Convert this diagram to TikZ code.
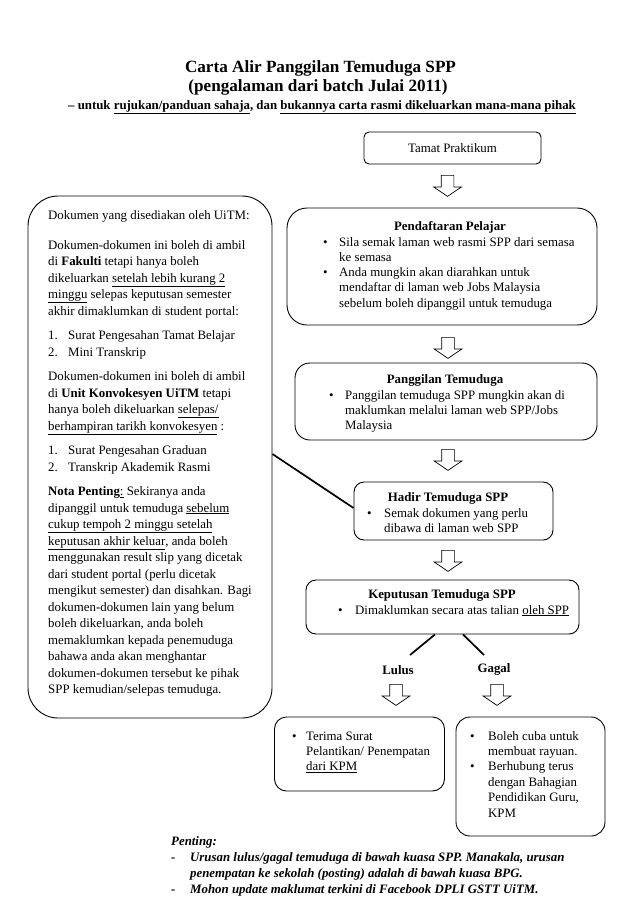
\documentclass[tikz,border=0pt]{standalone}
\usepackage{fontspec}
\setmainfont{Liberation Serif}
\usetikzlibrary{shapes.arrows,calc}
\newcommand{\fs}{\fontsize{12.86}{15.3}\selectfont}
\newcommand{\fsl}{\fontsize{12.86}{16.5}\selectfont}
\newcommand{\blk}[2]{\parbox[t]{#1}{\raggedright #2}}
\newcommand{\bul}[1][16pt]{\makebox[#1][l]{\textbullet}}
\newcommand{\nlab}[1]{\makebox[20pt][l]{#1}}
\begin{document}
\begin{tikzpicture}[x=1pt,y=-1pt,
  box/.style={draw, line width=0.9pt, inner sep=0pt},
  txt/.style={inner sep=0pt, anchor=base west},
  ttl/.style={inner sep=0pt, anchor=base, font=\fs\bfseries},
  conn/.style={line width=1.7pt},
  harrow/.style={single arrow, draw, line width=0.7pt, shape border rotate=270,
    minimum height=21pt, minimum width=1pt, inner sep=6pt,
    single arrow head extend=7.5pt, single arrow tip angle=112,
    single arrow head indent=0pt, anchor=tail}
]
\fill[white] (0,0) rectangle (638,903);
\useasboundingbox (0,0) rectangle (638,903);

% titles
\node[inner sep=0pt, anchor=base, font=\fontsize{17.15}{20}\selectfont\bfseries] (t1) at (320.5,72) {Carta Alir Panggilan Temuduga SPP};
\node[inner sep=0pt, anchor=base, font=\fontsize{17.15}{20}\selectfont\bfseries] (t2) at (318,91) {(pengalaman dari batch Julai 2011)};
\node[inner sep=0pt, anchor=base, font=\fs\bfseries] (t3) at (322,109) {– untuk \underline{rujukan/panduan sahaja}, dan \underline{bukannya carta rasmi dikeluarkan mana-mana pihak}};

% boxes
\node[box, rounded corners=5pt, minimum width=177pt, minimum height=32pt] (tamat) at (452.5,148) {};
\node[inner sep=0pt, font=\fs] (tamatt) at (tamat) {Tamat Praktikum};

\node[box, rounded corners=20pt, minimum width=310pt, minimum height=117pt] (pend) at (442,266.5) {};
\node[ttl] (pendt) at (450,230) {Pendaftaran Pelajar};
\node[txt] (pendb) at (323,246) {\blk{270pt}{\fs\bul Sila semak laman web rasmi SPP dari semasa\\
\hspace*{16pt}ke semasa\\
\bul Anda mungkin akan diarahkan untuk\\
\hspace*{16pt}mendaftar di laman web Jobs Malaysia\\
\hspace*{16pt}sebelum boleh dipanggil untuk temuduga}};

\node[box, rounded corners=15pt, minimum width=302pt, minimum height=77pt] (pang) at (446,401.5) {};
\node[ttl] (pangt) at (445,383) {Panggilan Temuduga};
\node[txt] (pangb) at (329,399) {\blk{260pt}{\fs\bul Panggilan temuduga SPP mungkin akan di\\
\hspace*{16pt}maklumkan melalui laman web SPP/Jobs\\
\hspace*{16pt}Malaysia}};

\node[box, rounded corners=10pt, minimum width=199pt, minimum height=58pt] (hadir) at (453.5,511) {};
\node[ttl] (hadirt) at (448,501) {Hadir Temuduga SPP};
\node[txt] (hadirb) at (367,517) {\blk{180pt}{\fs\bul[17pt]Semak dokumen yang perlu\\
\hspace*{17pt}dibawa di laman web SPP}};

\node[box, rounded corners=10pt, minimum width=273pt, minimum height=54pt] (kep) at (442.5,607) {};
\node[ttl] (kept) at (442,598) {Keputusan Temuduga SPP};
\node[txt] (kepb) at (338,614) {\blk{240pt}{\fs\bul[17pt]Dimaklumkan secara atas talian \underline{oleh SPP}}};

\node[ttl] (lulus) at (398,674) {Lulus};
\node[ttl] (gagal) at (494,672) {Gagal};

\node[box, rounded corners=12pt, minimum width=170pt, minimum height=74pt] (terima) at (359.5,754) {};
\node[txt] (terimab) at (292,740) {\blk{160pt}{\fs\bul[14pt]Terima Surat\\
\hspace*{14pt}Pelantikan/ Penempatan\\
\hspace*{14pt}\underline{dari KPM}}};

\node[box, rounded corners=14pt, minimum width=149pt, minimum height=119pt] (gbox) at (530.5,776.5) {};
\node[txt] (gboxb) at (470,740) {\blk{140pt}{\fontsize{12.86}{15.4}\selectfont\bul[18pt]Boleh cuba untuk\\
\hspace*{18pt}membuat rayuan.\\
\bul[18pt]Berhubung terus\\
\hspace*{18pt}dengan Bahagian\\
\hspace*{18pt}Pendidikan Guru,\\
\hspace*{18pt}KPM}};

\node[box, rounded corners=30pt, minimum width=244pt, minimum height=522pt] (left) at (150,457) {};
\node[txt] (leftb) at (48,219) {\blk{240pt}{\fsl Dokumen yang disediakan oleh UiTM:\\[13.5pt]
Dokumen-dokumen ini boleh di ambil\\
di \textbf{Fakulti} tetapi hanya boleh\\
dikeluarkan \underline{setelah lebih kurang 2}\\
\underline{minggu} selepas keputusan semester\\
akhir dimaklumkan di student portal:\\[8pt]
\nlab{1.}Surat Pengesahan Tamat Belajar\\
\nlab{2.}Mini Transkrip\\[8pt]
Dokumen-dokumen ini boleh di ambil\\
di \textbf{Unit Konvokesyen UiTM} tetapi\\
hanya boleh dikeluarkan \underline{selepas/}\\
\underline{berhampiran tarikh konvokesyen} :\\[8pt]
\nlab{1.}Surat Pengesahan Graduan\\
\nlab{2.}Transkrip Akademik Rasmi\\[8pt]
\textbf{Nota Penting}\underline{:} Sekiranya anda\\
dipanggil untuk temuduga \underline{sebelum}\\
\underline{cukup tempoh 2 minggu setelah}\\
\underline{keputusan akhir keluar}, anda boleh\\
menggunakan result slip yang dicetak\\
dari student portal (perlu dicetak\\
mengikut semester) dan disahkan. Bagi\\
dokumen-dokumen lain yang belum\\
boleh dikeluarkan, anda boleh\\
memaklumkan kepada penemuduga\\
bahawa anda akan menghantar\\
dokumen-dokumen tersebut ke pihak\\
SPP kemudian/selepas temuduga.}};

% bottom note
\node[txt] (pent) at (171,845) {\blk{460pt}{\fontsize{12.86}{16}\selectfont\bfseries\itshape Penting:\\
\makebox[19pt][l]{-}Urusan lulus/gagal temuduga di bawah kuasa SPP. Manakala, urusan\\
\hspace*{19pt}penempatan ke sekolah (posting) adalah di bawah kuasa BPG.\\
\makebox[19pt][l]{-}Mohon update maklumat terkini di Facebook DPLI GSTT UiTM.}};

% block arrows
\node[harrow] (a1) at (447.5,175) {};
\node[harrow] (a2) at (448,337) {};
\node[harrow] (a3) at (448,449) {};
\node[harrow] (a4) at (448,550) {};
\node[harrow] (a5) at (396,684) {};
\node[harrow] (a6) at (497,684) {};

% connectors
\coordinate (lulusend) at (410,655);
\coordinate (gagalend) at (484,655);
\draw[conn] ($(kep.south)+(-7.5,0)$) -- (lulusend);
\draw[conn] ($(kep.south)+(20.5,0)$) -- (gagalend);
\draw[conn] ($(left.east)+(0,-3)$) -- ($(hadir.west)+(0,-3)$);
\end{tikzpicture}
\end{document}
